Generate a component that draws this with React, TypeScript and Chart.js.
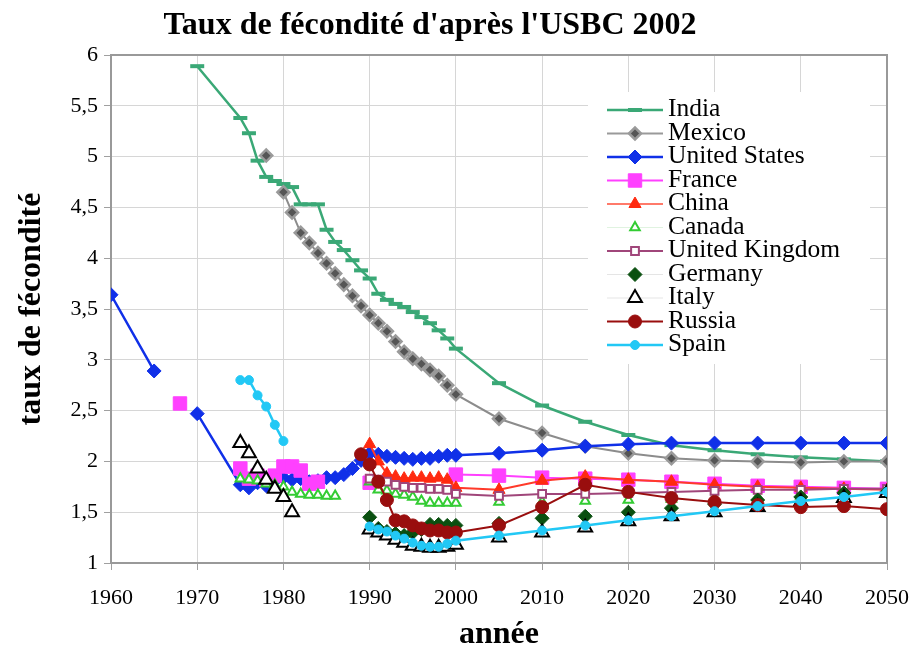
import React, { useEffect, useRef } from 'react';
import { Chart, registerables } from 'chart.js';
import { drawPoint } from 'chart.js/helpers';

Chart.register(...registerables);

const FONT = "'Liberation Serif', 'Times New Roman', Times, serif";

// ---- axis ticks ----
const xTickValues = [1960, 1970, 1980, 1990, 2000, 2010, 2020, 2030, 2040, 2050];
const yTickValues = [1, 1.5, 2, 2.5, 3, 3.5, 4, 4.5, 5, 5.5, 6];

// ---- data (years / fertility rates) ----
const indiaYears = [1970, 1975, 1976, 1977, 1978, 1979, 1980, 1981, 1982, 1983, 1984, 1985, 1986, 1987, 1988, 1989, 1990, 1991, 1992, 1993, 1994, 1995, 1996, 1997, 1998, 1999, 2000, 2005, 2010, 2015, 2020, 2025, 2030, 2035, 2040, 2045, 2050];
const indiaTFR = [5.89, 5.38, 5.23, 4.96, 4.80, 4.76, 4.73, 4.70, 4.53, 4.53, 4.53, 4.28, 4.16, 4.08, 3.98, 3.88, 3.80, 3.65, 3.59, 3.55, 3.52, 3.47, 3.42, 3.36, 3.29, 3.21, 3.11, 2.77, 2.55, 2.39, 2.26, 2.16, 2.11, 2.07, 2.04, 2.02, 2.00];

const mexicoYears = [1978, 1979, 1980, 1981, 1982, 1983, 1984, 1985, 1986, 1987, 1988, 1989, 1990, 1991, 1992, 1993, 1994, 1995, 1996, 1997, 1998, 1999, 2000, 2005, 2010, 2015, 2020, 2025, 2030, 2035, 2040, 2045, 2050];
const mexicoTFR = [5.01, null, 4.65, 4.45, 4.25, 4.15, 4.05, 3.95, 3.85, 3.74, 3.63, 3.53, 3.44, 3.36, 3.28, 3.18, 3.08, 3.01, 2.96, 2.90, 2.84, 2.75, 2.66, 2.42, 2.28, 2.15, 2.08, 2.03, 2.01, 2.00, 1.99, 2.00, 2.00];

const usYears = [1960, 1965, 1968, 1970, 1975, 1976, 1977, 1978, 1979, 1980, 1981, 1982, 1983, 1984, 1985, 1986, 1987, 1988, 1989, 1990, 1991, 1992, 1993, 1994, 1995, 1996, 1997, 1998, 1999, 2000, 2005, 2010, 2015, 2020, 2025, 2030, 2035, 2040, 2045, 2050];
const usTFR = [3.64, 2.89, null, 2.47, 1.77, 1.74, 1.79, 1.76, 1.81, 1.84, 1.82, 1.83, 1.80, 1.81, 1.84, 1.84, 1.87, 1.93, 2.01, 2.08, 2.07, 2.05, 2.04, 2.03, 2.02, 2.03, 2.03, 2.05, 2.06, 2.06, 2.08, 2.11, 2.15, 2.17, 2.18, 2.18, 2.18, 2.18, 2.18, 2.18];

const franceYears = [1968, 1970, 1975, 1976, 1977, 1978, 1979, 1980, 1981, 1982, 1983, 1984, 1985, 1990, 1995, 2000, 2005, 2010, 2015, 2020, 2025, 2030, 2035, 2040, 2045, 2050];
const franceTFR = [2.57, null, 1.93, 1.83, 1.86, 1.82, 1.86, 1.95, 1.95, 1.91, 1.78, 1.80, null, 1.79, null, 1.87, 1.86, 1.84, 1.83, 1.82, 1.80, 1.78, 1.76, 1.75, 1.74, 1.73];

const chinaYears = [1990, 1991, 1992, 1993, 1994, 1995, 1996, 1997, 1998, 1999, 2000, 2005, 2010, 2015, 2020, 2025, 2030, 2035, 2040, 2045, 2050];
const chinaTFR = [2.17, 2.00, 1.88, 1.85, 1.83, 1.84, 1.84, 1.83, 1.84, 1.82, 1.74, 1.72, 1.81, 1.85, 1.82, 1.80, 1.77, 1.75, 1.74, 1.73, 1.72];

const canadaYears = [1975, 1976, 1977, 1978, 1979, 1980, 1981, 1982, 1983, 1984, 1985, 1986, 1990, 1991, 1992, 1993, 1994, 1995, 1996, 1997, 1998, 1999, 2000, 2005, 2010, 2015, 2020, 2025, 2030, 2035, 2040, 2045, 2050];
const canadaTFR = [1.83, 1.82, 1.81, 1.78, 1.77, 1.75, 1.70, 1.68, 1.67, 1.67, 1.66, 1.66, 1.80, 1.72, 1.71, 1.68, 1.67, 1.65, 1.61, 1.59, 1.59, 1.59, 1.59, 1.60, 1.60, 1.61, 1.62, 1.63, 1.64, 1.65, 1.66, 1.67, 1.68];

const ukYears = [1990, 1991, 1992, 1993, 1994, 1995, 1996, 1997, 1998, 1999, 2000, 2005, 2010, 2015, 2020, 2025, 2030, 2035, 2040, 2045, 2050];
const ukTFR = [1.83, 1.82, 1.80, 1.77, 1.75, 1.74, 1.74, 1.73, 1.73, 1.72, 1.68, 1.66, 1.68, 1.68, 1.69, 1.70, 1.71, 1.72, 1.72, 1.73, 1.73];

const germanyYears = [1990, 1991, 1992, 1993, 1994, 1995, 1996, 1997, 1998, 1999, 2000, 2005, 2010, 2015, 2020, 2025, 2030, 2035, 2040, 2045, 2050];
const germanyTFR = [1.45, 1.34, 1.31, 1.29, 1.27, 1.30, 1.33, 1.38, 1.38, 1.37, 1.37, 1.39, 1.44, 1.46, 1.50, 1.54, 1.58, 1.62, 1.65, 1.69, 1.70];

const italyYears = [1975, 1976, 1977, 1978, 1979, 1980, 1981, 1990, 1991, 1992, 1993, 1994, 1995, 1996, 1997, 1998, 1999, 2000, 2005, 2010, 2015, 2020, 2025, 2030, 2035, 2040, 2045, 2050];
const italyTFR = [2.18, 2.08, 1.93, 1.82, 1.73, 1.65, 1.50, 1.33, 1.30, 1.27, 1.23, 1.20, 1.17, 1.16, 1.15, 1.15, 1.16, 1.18, 1.25, 1.30, 1.35, 1.41, 1.46, 1.50, 1.55, 1.60, 1.64, 1.69];

const russiaYears = [1989, 1990, 1991, 1992, 1993, 1994, 1995, 1996, 1997, 1998, 1999, 2000, 2005, 2010, 2015, 2020, 2025, 2030, 2035, 2040, 2045, 2050];
const russiaTFR = [2.07, 1.97, 1.80, 1.62, 1.42, 1.41, 1.37, 1.34, 1.32, 1.32, 1.30, 1.30, 1.37, 1.55, 1.77, 1.70, 1.64, 1.60, 1.57, 1.55, 1.56, 1.53];

const spainYears = [1975, 1976, 1977, 1978, 1979, 1980, 1985, 1990, 1991, 1992, 1993, 1994, 1995, 1996, 1997, 1998, 1999, 2000, 2005, 2010, 2015, 2020, 2025, 2030, 2035, 2040, 2045, 2050];
const spainTFR = [2.80, 2.80, 2.65, 2.54, 2.36, 2.20, null, 1.36, 1.33, 1.31, 1.27, 1.24, 1.20, 1.17, 1.16, 1.16, 1.19, 1.22, 1.27, 1.32, 1.37, 1.42, 1.46, 1.51, 1.56, 1.61, 1.65, 1.70];

type Def = {
  label: string; years: number[]; vals: (number | null)[];
  line: string; legendLine: string; lineWidth: number; showLine: boolean;
  style: string; radius: number; fill: string; border: string; bw: number;
};

const defs: Def[] = [
  { label: 'India', years: indiaYears, vals: indiaTFR, line: '#3aa876', legendLine: '#3aa876', lineWidth: 2.5, showLine: true, style: 'line', radius: 7, fill: '#3aa876', border: '#3aa876', bw: 4 },
  { label: 'Mexico', years: mexicoYears, vals: mexicoTFR, line: '#8c8c8c', legendLine: '#9a9a9a', lineWidth: 2, showLine: true, style: 'rectRot', radius: 6, fill: '#555555', border: '#9a9a9a', bw: 2.5 },
  { label: 'United States', years: usYears, vals: usTFR, line: '#1030e8', legendLine: '#1030e8', lineWidth: 2.5, showLine: true, style: 'rectRot', radius: 7, fill: '#1030e8', border: '#1030e8', bw: 1 },
  { label: 'France', years: franceYears, vals: franceTFR, line: '#ff40ff', legendLine: '#ff40ff', lineWidth: 2, showLine: true, style: 'rect', radius: 9.5, fill: '#ff40ff', border: '#ff40ff', bw: 1 },
  { label: 'China', years: chinaYears, vals: chinaTFR, line: '#ff3a2a', legendLine: '#ff7a6a', lineWidth: 2, showLine: true, style: 'triangle', radius: 7, fill: '#ff2a10', border: '#ff2a10', bw: 1 },
  { label: 'Canada', years: canadaYears, vals: canadaTFR, line: '#33cc33', legendLine: 'rgba(0,160,0,0.12)', lineWidth: 1, showLine: false, style: 'triangle', radius: 5.5, fill: '#ffffff', border: '#33cc33', bw: 2 },
  { label: 'United Kingdom', years: ukYears, vals: ukTFR, line: '#a0467a', legendLine: '#a0467a', lineWidth: 2, showLine: true, style: 'rect', radius: 5.5, fill: '#ffffff', border: '#a0467a', bw: 2 },
  { label: 'Germany', years: germanyYears, vals: germanyTFR, line: '#0a5010', legendLine: 'rgba(0,0,0,0.1)', lineWidth: 1, showLine: false, style: 'rectRot', radius: 7, fill: '#0a5010', border: '#0a5010', bw: 1 },
  { label: 'Italy', years: italyYears, vals: italyTFR, line: '#000000', legendLine: 'rgba(0,0,0,0.1)', lineWidth: 1, showLine: false, style: 'triangle', radius: 8, fill: '#ffffff', border: '#000000', bw: 2 },
  { label: 'Russia', years: russiaYears, vals: russiaTFR, line: '#990e0e', legendLine: '#990e0e', lineWidth: 2, showLine: true, style: 'circle', radius: 6.5, fill: '#990e0e', border: '#990e0e', bw: 1 },
  { label: 'Spain', years: spainYears, vals: spainTFR, line: '#22c8f5', legendLine: '#22c8f5', lineWidth: 2.5, showLine: true, style: 'circle', radius: 4.5, fill: '#22c8f5', border: '#22c8f5', bw: 1 },
];

const decorPlugin = {
  id: 'decor',
  beforeDatasetsDraw(chart: any) {
    const { ctx, chartArea: a } = chart;
    ctx.save();
    ctx.strokeStyle = '#999999';
    ctx.lineWidth = 2;
    ctx.strokeRect(a.left, a.top, a.right - a.left, a.bottom - a.top);
    ctx.restore();
  },
  afterDraw(chart: any) {
    const { ctx } = chart;
    ctx.save();
    // legend
    ctx.fillStyle = '#ffffff';
    ctx.fillRect(588, 92, 282, 272);
    const lx0 = 607, lx1 = 663, mx = 635, tx = 668, y0 = 110, dy = 23.5;
    defs.forEach((d, i) => {
      const y = y0 + i * dy;
      ctx.beginPath();
      ctx.strokeStyle = d.legendLine;
      ctx.lineWidth = d.showLine ? d.lineWidth : 1;
      ctx.moveTo(lx0, y);
      ctx.lineTo(lx1, y);
      ctx.stroke();
      ctx.fillStyle = d.fill;
      ctx.strokeStyle = d.border;
      ctx.lineWidth = d.bw;
      drawPoint(ctx, { pointStyle: d.style, radius: d.radius, borderWidth: d.bw, rotation: 0 } as any, mx, y);
      ctx.fillStyle = '#000';
      ctx.font = `25.5px ${FONT}`;
      ctx.textAlign = 'left';
      ctx.textBaseline = 'alphabetic';
      ctx.fillText(d.label, tx, y + 6);
    });
    // title
    ctx.fillStyle = '#000';
    ctx.font = `bold 32px ${FONT}`;
    ctx.textAlign = 'center';
    ctx.textBaseline = 'alphabetic';
    ctx.fillText("Taux de fécondité d'après l'USBC 2002", 430, 34);
    // x title
    ctx.fillText('année', 499, 643);
    // y title
    ctx.translate(40, 309);
    ctx.rotate(-Math.PI / 2);
    ctx.fillText('taux de fécondité', 0, 0);
    ctx.restore();
  },
};

export default function App() {
  const ref = useRef<HTMLCanvasElement>(null);
  useEffect(() => {
    if (!ref.current) return;
    const n = defs.length;
    const chart = new Chart(ref.current, {
      type: 'line',
      data: {
        datasets: defs.map((d, i) => ({
          label: d.label,
          data: d.years.map((x, k) => ({ x, y: d.vals[k] })),
          borderColor: d.line,
          backgroundColor: d.fill,
          borderWidth: d.lineWidth,
          showLine: d.showLine,
          spanGaps: false,
          tension: 0,
          fill: false,
          pointStyle: d.style as any,
          pointRadius: d.radius,
          pointHoverRadius: d.radius,
          pointBackgroundColor: d.fill,
          pointBorderColor: d.border,
          pointBorderWidth: d.bw,
          order: n - i,
        })),
      },
      options: {
        animation: false,
        responsive: false,
        devicePixelRatio: 1,
        layout: { padding: { top: 55, right: 28, left: 0, bottom: 0 } },
        plugins: { legend: { display: false }, title: { display: false }, tooltip: { enabled: false } },
        scales: {
          x: {
            type: 'linear',
            min: 1960,
            max: 2050,
            afterFit: (s: any) => { s.height = 85; },
            afterBuildTicks: (s: any) => { s.ticks = xTickValues.map((v) => ({ value: v })); },
            ticks: {
              autoSkip: false,
              maxRotation: 0,
              padding: 15,
              color: '#000',
              font: { family: FONT, size: 22 },
              callback: (v: any) => String(v),
            },
            grid: { color: '#d6d6d6', lineWidth: 1, drawTicks: true, tickLength: 7, tickColor: '#a0a0a0' },
            border: { display: false },
          },
          y: {
            type: 'linear',
            min: 1,
            max: 6,
            afterFit: (s: any) => { s.width = 111; },
            afterBuildTicks: (s: any) => { s.ticks = yTickValues.map((v) => ({ value: v })); },
            ticks: {
              autoSkip: false,
              padding: 6,
              color: '#000',
              font: { family: FONT, size: 22 },
              callback: (v: any) => String(v).replace('.', ','),
            },
            grid: { color: '#d6d6d6', lineWidth: 1, drawTicks: true, tickLength: 7, tickColor: '#a0a0a0' },
            border: { display: false },
          },
        },
      },
      plugins: [decorPlugin],
    });
    return () => chart.destroy();
  }, []);
  return (
    <div style={{ position: 'fixed', left: 0, top: 0, width: 924, height: 648, background: '#fff' }}>
      <canvas ref={ref} width={924} height={648} style={{ width: 924, height: 648, display: 'block' }} />
    </div>
  );
}
